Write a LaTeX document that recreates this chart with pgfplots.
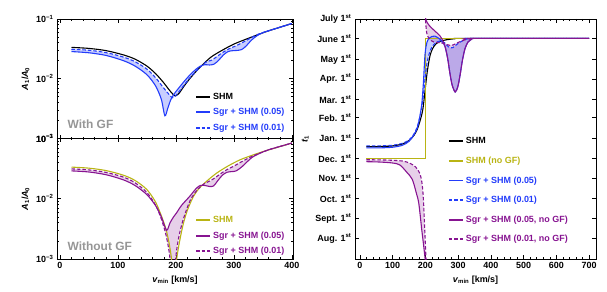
\documentclass[border=0pt]{standalone}
\usepackage{fontspec}
\setmainfont{Liberation Sans}
\usepackage{pgfplots}
\pgfplotsset{compat=1.18}
\definecolor{cblue}{RGB}{35,60,250}
\definecolor{cpurp}{RGB}{135,20,145}
\definecolor{cyel}{RGB}{185,180,20}
\definecolor{cgray}{RGB}{150,150,150}
\newcommand{\ff}{\bfseries\fontsize{9}{10}\selectfont}
\pgfplotsset{
  myax/.style={
    scale only axis,
    font=\ff, tick label style={font=\ff}, label style={font=\ff},
    tick align=inside, major tick length=4bp, minor tick length=2bp,
    every tick/.style={black, line width=0.6pt},
    axis line style={line width=0.9pt},
    /pgf/number format/assume math mode=true,
    legend style={draw=none, fill=none, inner sep=0pt, font=\ff, legend cell align=left,
      /tikz/every even column/.append style={column sep=3bp}},
    legend image code/.code={\draw[##1, line width=2pt] (0bp,0bp) -- (14bp,0bp);},
  },
  cl/.style={line width=1.1pt, smooth, tension=0.5},
  cd/.style={line width=1.1pt, smooth, tension=0.5, dash pattern=on 3.5pt off 2pt},
  bfill/.style={fill=cblue, fill opacity=0.25, draw=none, forget plot},
  pfill/.style={fill=cpurp, fill opacity=0.2, draw=none, forget plot},
}
\begin{document}
\begin{tikzpicture}
\useasboundingbox (0,0) rectangle (607bp,292bp);
% ---------- top left: with GF ----------
\begin{axis}[myax, at={(57bp,153.5bp)}, anchor=south west, width=236bp, height=119.5bp,
  xmin=-5, xmax=402, ymode=log, ymin=1e-3, ymax=1e-1,
  xtick={0,100,200,300,400}, minor x tick num=4, xticklabels={},
  ytick={1e-3,1e-2,1e-1}, yticklabels={10\textsuperscript{−3},10\textsuperscript{−2},10\textsuperscript{−1}},
  ylabel={\textit{A}\textsubscript{1}/\textit{A}\textsubscript{0}},
  legend style={at={(rel axis cs:0.585,0.40)}, anchor=north west, row sep=3.5bp}]
\addplot[bfill] coordinates {(20,0.0285)(50,0.0272)(80,0.0245)(110,0.0200)(130,0.0162)(150,0.0117)(165,0.0076)(175,0.0045)(181,0.0024)(186,0.0032)(191,0.0044)(196,0.0054)(205,0.0070)(215,0.0092)(225,0.0118)(235,0.0145)(242,0.0162)(250,0.0172)(258,0.0170)(266,0.0176)(274,0.0205)(282,0.0250)(290,0.0285)(298,0.0295)(306,0.0298)(314,0.0310)(322,0.0360)(330,0.0440)(340,0.0525)(350,0.0590)(360,0.0635)(380,0.0730)(400,0.0840)
 (400,0.0840)(380,0.0730)(360,0.0635)(345,0.0572)(332,0.0500)(322,0.0440)(312,0.0390)(302,0.0350)(292,0.0318)(282,0.0280)(272,0.0240)(262,0.0205)(252,0.0190)(240,0.0150)(225,0.0106)(214,0.0078)(205,0.0060)(198,0.0050)(194,0.0048)(188,0.0055)(178,0.0072)(165,0.0104)(150,0.0145)(130,0.0192)(110,0.0230)(80,0.0273)(50,0.0300)(20,0.0312)} -- cycle;
\addplot[cl, black] coordinates {(20,0.0335)(50,0.0322)(80,0.0295)(110,0.0250)(130,0.0212)(150,0.0163)(165,0.0122)(178,0.0088)(188,0.0066)(195,0.0055)(200,0.0052)(206,0.0058)(214,0.0075)(225,0.0103)(240,0.0150)(260,0.0228)(280,0.0300)(300,0.0380)(320,0.0455)(340,0.0540)(360,0.0635)(380,0.0730)(400,0.0840)};
\addlegendentry{SHM}
\addplot[cl, cblue] coordinates {(20,0.0285)(50,0.0272)(80,0.0245)(110,0.0200)(130,0.0162)(150,0.0117)(165,0.0076)(175,0.0045)(181,0.0024)(186,0.0032)(191,0.0044)(196,0.0054)(205,0.0070)(215,0.0092)(225,0.0118)(235,0.0145)(242,0.0162)(250,0.0172)(258,0.0170)(266,0.0176)(274,0.0205)(282,0.0250)(290,0.0285)(298,0.0295)(306,0.0298)(314,0.0310)(322,0.0360)(330,0.0440)(340,0.0525)(350,0.0590)(360,0.0635)(380,0.0730)(400,0.0840)};
\addlegendentry{\textcolor{cblue}{Sgr + SHM (0.05)}}
\addplot[cd, cblue] coordinates {(20,0.0312)(50,0.0300)(80,0.0273)(110,0.0230)(130,0.0192)(150,0.0145)(165,0.0104)(178,0.0072)(188,0.0055)(194,0.0048)(198,0.0050)(205,0.0060)(214,0.0078)(225,0.0106)(240,0.0150)(252,0.0190)(262,0.0205)(272,0.0240)(282,0.0280)(292,0.0318)(302,0.0350)(312,0.0390)(322,0.0440)(332,0.0500)(345,0.0572)(360,0.0635)(380,0.0730)(400,0.0840)};
\addlegendentry{\textcolor{cblue}{Sgr + SHM (0.01)}}
\node[anchor=south west, text=cgray, font=\bfseries\fontsize{12}{13}\selectfont] at (rel axis cs:0.03,0.05) {With GF};
\end{axis}
% ---------- bottom left: without GF ----------
\begin{axis}[myax, at={(57bp,33bp)}, anchor=south west, width=236bp, height=120.5bp,
  xmin=-5, xmax=402, ymode=log, ymin=1e-3, ymax=1e-1,
  xtick={0,100,200,300,400}, minor x tick num=4,
  ytick={1e-3,1e-2,1e-1}, yticklabels={10\textsuperscript{−3},10\textsuperscript{−2},10\textsuperscript{−1}},
  ylabel={\textit{A}\textsubscript{1}/\textit{A}\textsubscript{0}},
  xlabel={\textit{v}\textsubscript{min} [km/s]},
  legend style={at={(rel axis cs:0.585,0.37)}, anchor=north west, row sep=3.5bp}]
\addplot[pfill] coordinates {(20,0.0290)(50,0.0278)(80,0.0250)(110,0.0205)(130,0.0165)(150,0.0117)(165,0.0077)(175,0.0050)(184,0.0030)(190,0.0040)(196,0.0050)(201,0.0058)(210,0.0078)(224,0.0110)(235,0.0148)(242,0.0166)(250,0.0166)(258,0.0160)(265,0.0163)(272,0.0198)(280,0.0245)(288,0.0275)(296,0.0282)(304,0.0290)(314,0.0340)(324,0.0420)(332,0.0490)(345,0.0570)(360,0.0650)(380,0.0740)(400,0.0840)
 (400,0.0840)(380,0.0740)(360,0.0650)(345,0.0572)(330,0.0500)(320,0.0445)(310,0.0395)(300,0.0348)(290,0.0312)(280,0.0272)(270,0.0232)(260,0.0200)(250,0.0180)(238,0.0145)(225,0.0095)(215,0.0053)(208,0.0031)(203,0.0018)(199,0.0009)(196,0.0004)(194,0.0004)(191,0.0008)(188,0.0014)(183,0.0025)(175,0.0046)(165,0.0078)(150,0.0127)(130,0.0183)(110,0.0228)(80,0.0273)(50,0.0301)(20,0.0313)} -- cycle;
\addplot[cl, cyel] coordinates {(20,0.0335)(50,0.0322)(80,0.0293)(110,0.0245)(130,0.0200)(150,0.0142)(165,0.0088)(175,0.0052)(183,0.0031)(188,0.0019)(192,0.0011)(195,0.0006)(197,0.0003)(199,0.0006)(202,0.0011)(207,0.0021)(213,0.0039)(220,0.0065)(230,0.0108)(240,0.0148)(253,0.0195)(270,0.0265)(290,0.0350)(310,0.0440)(330,0.0520)(350,0.0605)(370,0.0690)(400,0.0840)};
\addlegendentry{\textcolor{cyel}{SHM}}
\addplot[cl, cpurp] coordinates {(20,0.0290)(50,0.0278)(80,0.0250)(110,0.0205)(130,0.0165)(150,0.0117)(165,0.0077)(175,0.0050)(184,0.0030)(190,0.0040)(196,0.0050)(201,0.0058)(210,0.0078)(224,0.0110)(235,0.0148)(242,0.0166)(250,0.0166)(258,0.0160)(265,0.0163)(272,0.0198)(280,0.0245)(288,0.0275)(296,0.0282)(304,0.0290)(314,0.0340)(324,0.0420)(332,0.0490)(345,0.0570)(360,0.0650)(380,0.0740)(400,0.0840)};
\addlegendentry{\textcolor{cpurp}{Sgr + SHM (0.05)}}
\addplot[cd, cpurp] coordinates {(20,0.0313)(50,0.0301)(80,0.0273)(110,0.0228)(130,0.0183)(150,0.0127)(165,0.0078)(175,0.0046)(183,0.0025)(188,0.0014)(191,0.0008)(194,0.0004)(196,0.0004)(199,0.0009)(203,0.0018)(208,0.0031)(215,0.0053)(225,0.0095)(238,0.0145)(250,0.0180)(260,0.0200)(270,0.0232)(280,0.0272)(290,0.0312)(300,0.0348)(310,0.0395)(320,0.0445)(330,0.0500)(345,0.0572)(360,0.0650)(380,0.0740)(400,0.0840)};
\addlegendentry{\textcolor{cpurp}{Sgr + SHM (0.01)}}
\node[anchor=south west, text=cgray, font=\bfseries\fontsize{12}{13}\selectfont] at (rel axis cs:0.03,0.04) {Without GF};
\end{axis}
% ---------- right: phase ----------
\begin{axis}[myax, at={(355bp,33bp)}, anchor=south west, width=241bp, height=240bp,
  xmin=-15, xmax=721, ymin=-184, ymax=181,
  xtick={0,100,...,700}, minor x tick num=4,
  ytick={-153,-122,-92,-61,-31,0,31,59,90,120,151,181},
  yticklabels={Aug. 1\textsuperscript{st},Sept. 1\textsuperscript{st},Oct. 1\textsuperscript{st},Nov. 1\textsuperscript{st},Dec. 1\textsuperscript{st},Jan. 1\textsuperscript{st},Feb. 1\textsuperscript{st},Mar. 1\textsuperscript{st},Apr. 1\textsuperscript{st},May 1\textsuperscript{st},June 1\textsuperscript{st},July 1\textsuperscript{st}},
  xlabel={\textit{v}\textsubscript{min} [km/s]},
  ylabel={\textit{t}\textsubscript{1}},
  legend style={at={(rel axis cs:0.385,0.515)}, anchor=north west, row sep=7.6bp}]
\addplot[bfill] coordinates {(20,-15)(60,-15)(100,-14)(130,-11)(150,-5)(165,5)(175,15)(182,30)(189,52)(194,85)(199,128)(205,146)(212,152)(220,154.5)(229,155)(237,153)(245,150)(252,146)(260,139)(268,121)(275,98)(282,80)(291,70)(299,78)(306,96)(313,118)(321,136)(330,146)(340,150)(360,151.5)(700,151.5)
 (700,151.5)(345,151.5)(326,150.5)(310,147)(295,142)(284,137.5)(275,137)(266,141)(258,145)(245,147.5)(232,145)(222,140)(214,132)(206,117)(200,95)(195,70)(190,50)(183,32)(175,17)(165,6)(150,-3)(130,-8)(100,-11)(60,-12)(20,-12)} -- cycle;
\addplot[pfill] coordinates {(20,-36)(60,-36.5)(100,-38)(122,-41)(143,-52)(160,-63)(173,-85)(180,-100)(189,-140)(195,-165)(200,-188)(202,-200)
 (204,-200)(202,-186)(198,-140)(194,-94)(190,-70)(183,-54)(170,-44)(153,-38.5)(130,-35)(80,-33.5)(20,-33)} -- cycle;
\addplot[pfill] coordinates {(198,188)(203,178)(212,171)(224,165)(235,160)(245,155)(252,149)(260,139)(268,121)(275,98)(282,80)(291,70)(299,78)(306,96)(313,118)(321,136)(330,146)(340,150)(360,151.5)(700,151.5)
 (700,151.5)(345,151.5)(326,150)(310,147.5)(295,144)(285,141.5)(275,141)(265,142)(255,144)(240,145)(226,146)(218,148)(210,152)(204,160)(201,175)(199,188)} -- cycle;
\addplot[cl, black] coordinates {(20,-13)(60,-13)(100,-12)(130,-9)(150,-4)(165,4)(175,13)(183,25)(190,38)(194,50)(200,77)(206,102)(214,125)(222,136)(232,143)(245,147)(265,149.5)(290,151)(320,151.5)(700,151.5)};
\addlegendentry{SHM}
\addplot[line width=1.1pt, cyel] coordinates {(20,-31)(199,-31)(199,151.5)(700,151.5)};
\addlegendentry{\textcolor{cyel}{SHM (no GF)}}
\addplot[cl, cblue] coordinates {(20,-15)(60,-15)(100,-14)(130,-11)(150,-5)(165,5)(175,15)(182,30)(189,52)(194,85)(199,128)(205,146)(212,152)(220,154.5)(229,155)(237,153)(245,150)(252,146)(260,139)(268,121)(275,98)(282,80)(291,70)(299,78)(306,96)(313,118)(321,136)(330,146)(340,150)(360,151.5)(700,151.5)};
\addlegendentry{\textcolor{cblue}{Sgr + SHM (0.05)}}
\addplot[cd, cblue] coordinates {(20,-12)(60,-12)(100,-11)(130,-8)(150,-3)(165,6)(175,17)(183,32)(190,50)(195,70)(200,95)(206,117)(214,132)(222,140)(232,145)(245,147.5)(258,145)(266,141)(275,137)(284,137.5)(295,142)(310,147)(326,150.5)(345,151.5)(700,151.5)};
\addlegendentry{\textcolor{cblue}{Sgr + SHM (0.01)}}
\addplot[cl, cpurp] coordinates {(20,-36)(60,-36.5)(100,-38)(122,-41)(143,-52)(160,-63)(173,-85)(180,-100)(189,-140)(195,-165)(200,-188)(202,-200)};
\addlegendentry{\textcolor{cpurp}{Sgr + SHM (0.05, no GF)}}
\addplot[cd, cpurp] coordinates {(20,-33)(80,-33.5)(130,-35)(153,-38.5)(170,-44)(183,-54)(190,-70)(194,-94)(198,-140)(202,-186)(204,-200)};
\addlegendentry{\textcolor{cpurp}{Sgr + SHM (0.01, no GF)}}
\addplot[cl, cpurp, forget plot] coordinates {(198,188)(203,178)(212,171)(224,165)(235,160)(245,155)(252,149)(260,139)(268,121)(275,98)(282,80)(291,70)(299,78)(306,96)(313,118)(321,136)(330,146)(340,150)(360,151.5)(700,151.5)};
\addplot[cd, cpurp, forget plot] coordinates {(199,188)(201,175)(204,160)(210,152)(218,148)(226,146)(240,145)(255,144)(265,142)(275,141)(285,141.5)(295,144)(310,147.5)(326,150)(345,151.5)(700,151.5)};
\end{axis}
\end{tikzpicture}
\end{document}
